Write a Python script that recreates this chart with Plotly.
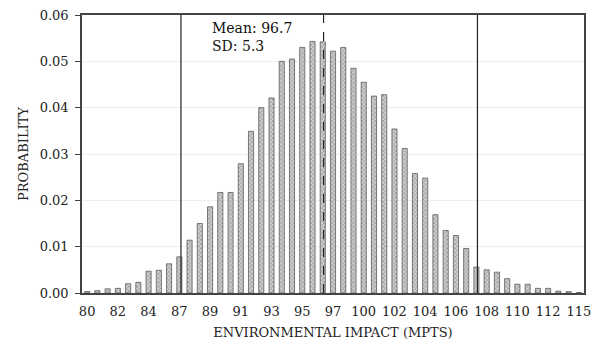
import plotly.graph_objects as go

# Probability of each environmental-impact bin (49 bins, ~0.73 mPts wide)
probabilities = [
    0.0003, 0.0005, 0.0009, 0.0010, 0.0020, 0.0023, 0.0047, 0.0049, 0.0063, 0.0078,
    0.0114, 0.0150, 0.0186, 0.0217, 0.0217, 0.0279, 0.0349, 0.0400, 0.0421, 0.0500,
    0.0505, 0.0530, 0.0543, 0.0542, 0.0522, 0.0530, 0.0485, 0.0455, 0.0425, 0.0428,
    0.0354, 0.0312, 0.0258, 0.0248, 0.0169, 0.0135, 0.0124, 0.0096, 0.0056, 0.0050,
    0.0045, 0.0031, 0.0019, 0.0019, 0.0010, 0.0010, 0.0004, 0.0003, 0.0001,
]
bin_index = list(range(len(probabilities)))

# Tick labels shown every third bin
tick_labels = ["80", "82", "84", "87", "89", "91", "93", "95", "97",
               "100", "102", "104", "106", "108", "110", "112", "115"]
tick_positions = bin_index[::3]

# Reference lines (in bin-index units): lower bound, mean, upper bound
lower_bound = 9.16
mean_pos = 23.08
upper_bound = 38.1

FONT = "DejaVu Serif"

fig = go.Figure()
fig.add_trace(go.Bar(
    x=bin_index, y=probabilities,
    width=0.5,
    marker=dict(
        color="#b0b0b0",
        line=dict(color="#4a4a4a", width=0.7),
        pattern=dict(shape="x", size=3, solidity=0.4, fgcolor="#5a5a5a", bgcolor="#cfcfcf"),
    ),
    showlegend=False,
))

for xv, dash in [(lower_bound, "solid"), (mean_pos, "dash"), (upper_bound, "solid")]:
    fig.add_shape(type="line", xref="x", yref="paper", x0=xv, x1=xv, y0=0, y1=1,
                  line=dict(color="#222222", width=1.2, dash=dash))

fig.add_annotation(xref="x", yref="paper", x=12.0, y=0.99, xanchor="left", yanchor="top",
                   text="Mean: 96.7<br>SD: 5.3", showarrow=False, align="left",
                   font=dict(family=FONT, size=14, color="#111111"))

fig.update_layout(
    width=602, height=348,
    margin=dict(l=82, r=18, t=15, b=55),
    paper_bgcolor="white", plot_bgcolor="white",
    font=dict(family=FONT, size=13, color="#222222"),
    xaxis=dict(
        range=[-0.5, len(probabilities) - 0.5],
        tickmode="array", tickvals=tick_positions, ticktext=tick_labels,
        showgrid=False, showline=True, linecolor="#444444", linewidth=1.5, mirror=True,
        ticks="", tickfont=dict(family=FONT, size=13), ticklabelstandoff=6,
        title=dict(text="ENVIRONMENTAL IMPACT (MPTS)", font=dict(family=FONT, size=13), standoff=10),
        automargin=False,
    ),
    yaxis=dict(
        range=[0, 0.06], dtick=0.01, tickformat=".2f",
        showgrid=True, gridcolor="#eeeeee", gridwidth=1,
        showline=True, linecolor="#444444", linewidth=1.5, mirror=True,
        ticks="outside", ticklen=5, tickcolor="#444444",
        tickfont=dict(family=FONT, size=13), ticklabelstandoff=4,
        title=dict(text="PROBABILITY", font=dict(family=FONT, size=13), standoff=8),
        zeroline=False, automargin=False,
    ),
    bargap=0.5,
)

fig.write_html("out.html")
